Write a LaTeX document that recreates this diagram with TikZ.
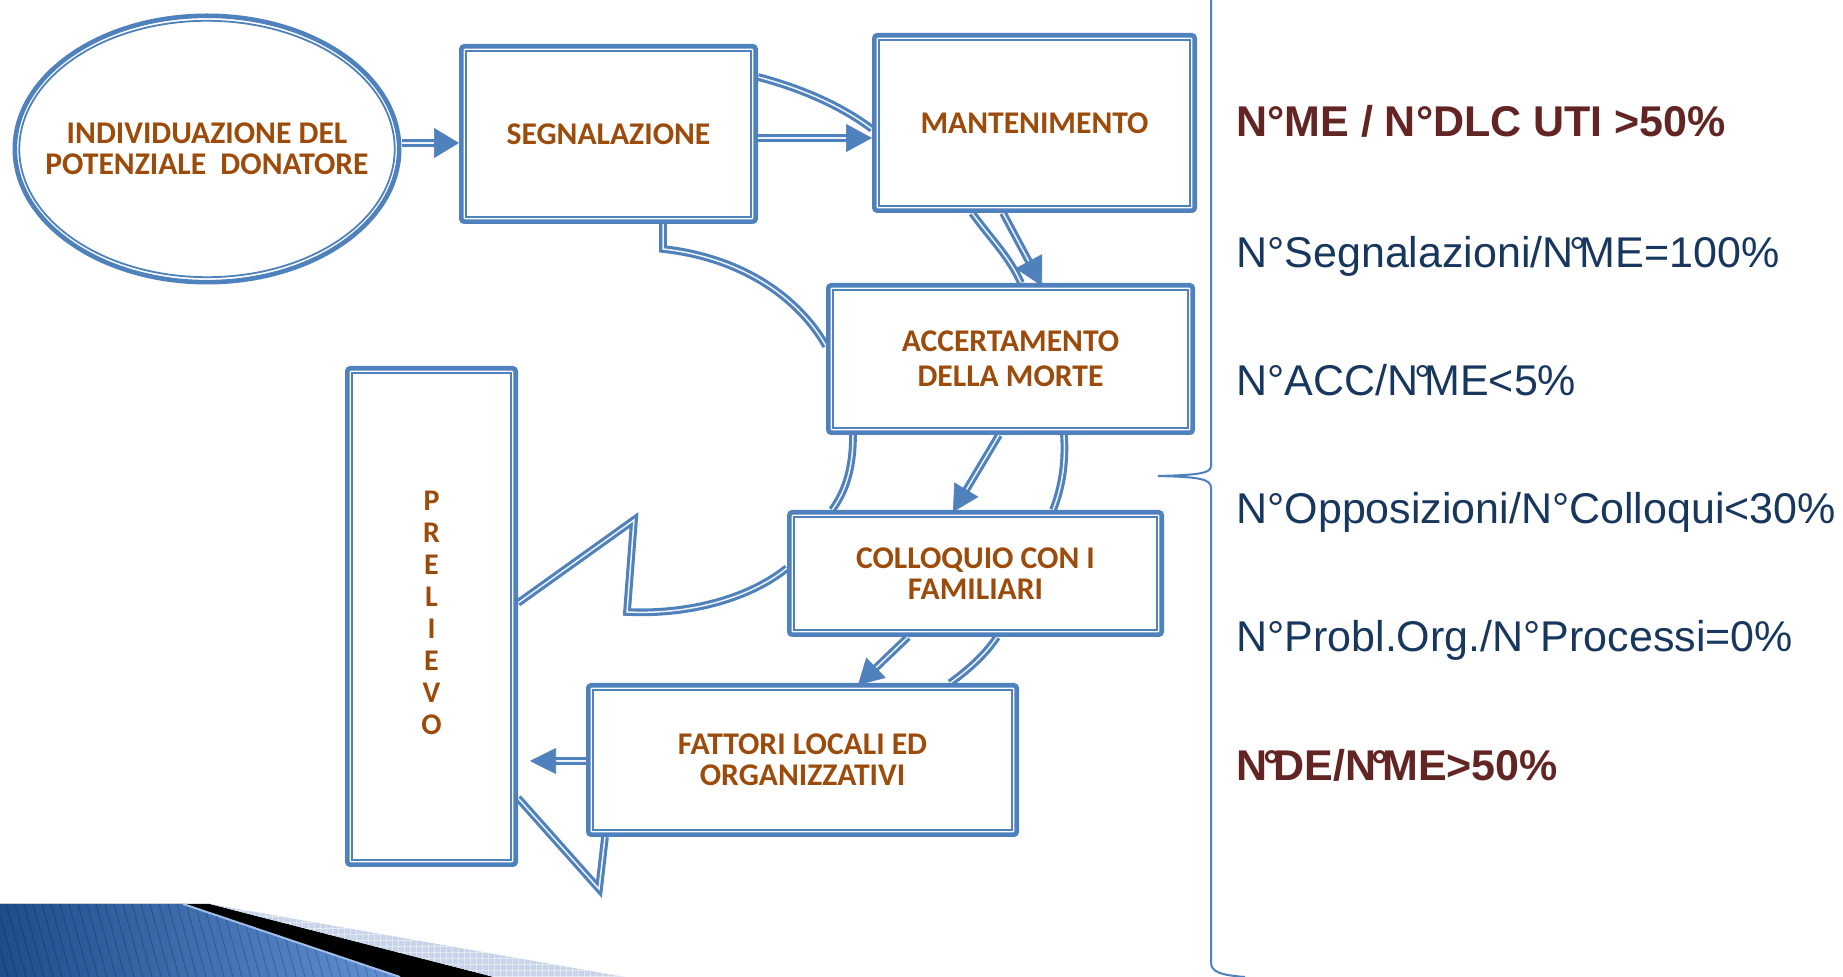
\documentclass[tikz,border=0pt]{standalone}
\usepackage{fontspec}
\setmainfont{Carlito}
\newfontfamily\kpifont{Liberation Sans}
\usetikzlibrary{shapes.geometric,arrows.meta,calc}
\pgfdeclarelayer{background}
\pgfdeclarelayer{deco}
\pgfsetlayers{deco,background,main}
\definecolor{boxblue}{RGB}{79,129,189}
\definecolor{txtbrown}{RGB}{156,75,10}
\definecolor{kpiblue}{RGB}{23,55,94}
\definecolor{kpired}{RGB}{99,37,35}
\definecolor{bandlight}{RGB}{200,212,234}
\definecolor{banddark}{RGB}{30,76,140}
\definecolor{bandmid}{RGB}{100,145,212}
\newcommand\boxfont{\bfseries\fontsize{15.8}{15.3}\selectfont}
\newcommand\tdeg{\kern-0.1em°\kern-0.16em}
\newcommand\barrow[4]{%
  \draw[conn, shorten >=#3-1pt] #1 -- #2;
  \draw[boxblue, line width=0.3pt, -{Triangle[length=#3,width=#4]}] ($#1!0.85!#2$) -- #2;}
\begin{document}
\begin{tikzpicture}[x=0.5pt,y=-0.5pt,
  box/.style={draw=boxblue, line width=2.3pt, rounded corners=1.5pt, fill=white,
    inner sep=0pt, align=center, font=\boxfont, text=txtbrown},
  inner/.style={draw=boxblue, line width=0.9pt},
  conn/.style={draw=boxblue, line width=1.55pt, double=white!90!boxblue, double distance=0.75pt},
  btext/.style={text=txtbrown, inner sep=0pt, align=center, font=\boxfont},
  kpi/.style={anchor=base west, inner sep=0pt, text=kpiblue, font=\kpifont\fontsize{21.5}{25}\selectfont},
  kpib/.style={kpi, text=kpired, font=\kpifont\bfseries\fontsize{21.5}{25}\selectfont}]
\useasboundingbox (0,0) rectangle (1843,977);
\begin{pgfonlayer}{deco}
  \fill[white] (0,0) rectangle (1843,977);
  % bottom-left decoration
  \fill[left color=banddark, right color=bandmid] (0,904) -- (183,904) -- (402,977) -- (0,977) -- cycle;
  \begin{scope}
    \clip (0,904) -- (183,904) -- (402,977) -- (0,977) -- cycle;
    \foreach \i in {-30,-21,...,420} \draw[black, opacity=0.22, line width=0.4pt] (\i,904) -- (\i+20,977);
  \end{scope}
  \fill[black] (183,904) -- (210,904) -- (494,977) -- (400,977) -- cycle;
  \draw[bandmid!60!white, line width=1pt] (183,904) -- (400,977);
  \fill[bandlight] (210,904) -- (625,977) -- (494,977) -- cycle;
  \begin{scope}
    \clip (210,904) -- (625,977) -- (494,977) -- cycle;
    \foreach \i in {200,206,...,640} \draw[white, opacity=0.45, line width=0.3pt] (\i,904) -- (\i,977);
    \foreach \j in {904,910,...,977} \draw[white, opacity=0.45, line width=0.3pt] (200,\j) -- (640,\j);
  \end{scope}
  % brace
  \draw[boxblue, line width=1pt] (1211,0) -- (1211,466) .. controls (1211,473) and (1200,475) .. (1158,476)
     .. controls (1200,477) and (1211,479) .. (1211,488) -- (1211,962) .. controls (1211,972) and (1220,975) .. (1245,977);
\end{pgfonlayer}

% nodes
\node[box, ellipse, minimum width=192.2pt, minimum height=133.2pt] (ell) at (207,149) {};
\draw[inner] (ell.center) ellipse [x radius=187.7, y radius=128.2];
\node[btext] (ellt) at (ell.center) {INDIVIDUAZIONE DEL\\POTENZIALE\ \ DONATORE};
\node[box, minimum width=147.2pt, minimum height=87.7pt] (seg) at (608.5,134) {SEGNALAZIONE};
\node[box, minimum width=160.2pt, minimum height=87.7pt] (mant) at (1034.5,123) {MANTENIMENTO};
\node[box, minimum width=182.2pt, minimum height=73.7pt, font=\bfseries\fontsize{15.8}{17.5}\selectfont] (acc) at (1010.5,359)
  {ACCERTAMENTO\\DELLA MORTE};
\node[box, minimum width=186.2pt, minimum height=61.2pt] (coll) at (975.5,573.5) {COLLOQUIO CON I\\FAMILIARI};
\node[box, minimum width=214.2pt, minimum height=74.7pt] (fatt) at (802.5,760) {FATTORI LOCALI ED\\ORGANIZZATIVI};
\node[box, minimum width=84.2pt, minimum height=248.2pt] (prel) at (431.5,616.5) {};
\foreach \n in {seg,mant,acc,coll,fatt,prel}
  \draw[inner] ([shift={(7.3,7.3)}]\n.north west) rectangle ([shift={(-7.3,-7.3)}]\n.south east);
\node[btext, font=\bfseries\fontsize{15}{16}\selectfont] (prelt) at (prel.center |- 0,613)
  {P\\R\\E\\L\\I\\E\\V\\O};

% curved band connectors (behind boxes)
\begin{pgfonlayer}{background}
  \draw[conn] (seg.east |- 0,77) .. controls (800,88) and (840,105) .. (mant.west |- 0,129);
  \draw[conn] (mant.south -| 972,0) .. controls (992,240) and (1010,258) .. (acc.north -| 1021,0);
  \draw[conn] (seg.south -| 663,0) -- (663,249) .. controls (745,258) and (800,300) .. (acc.west |- 0,346);
  \draw[conn] (acc.south -| 853,0) .. controls (853,470) and (845,492) .. (coll.north -| 832,0);
  \draw[conn] (acc.south -| 1064,0) .. controls (1066,465) and (1061,490) .. (coll.north -| 1053,0);
  \draw[conn] (coll.west |- 0,568) .. controls (750,598) and (690,615) .. (627,612) -- (634,520) -- (prel.east |- 0,603);
  \draw[conn] (coll.south -| 997,0) .. controls (985,655) and (968,670) .. (fatt.north -| 950,0);
  \draw[conn] (fatt.south -| 605,0) -- (599,889) -- (prel.east |- 0,798);
\end{pgfonlayer}

% block arrows
\coordinate (a1s) at (ell.east |- 0,143);
\coordinate (a1e) at (seg.west |- 0,143);
\coordinate (a2s) at (seg.east |- 0,138);
\coordinate (a2e) at (mant.west |- 0,138);
\coordinate (a3s) at (mant.south -| 1003,0);
\coordinate (a3e) at (1042,286);
\coordinate (a4s) at (acc.south -| 999,0);
\coordinate (a4e) at (953,512);
\coordinate (a5s) at (coll.south -| 908,0);
\coordinate (a5e) at (858,685);
\coordinate (a6s) at (fatt.west |- 0,761);
\coordinate (a6e) at (530,761);
\barrow{(a1s)}{(a1e)}{12.5pt}{15pt}
\barrow{(a2s)}{(a2e)}{13pt}{14pt}
\barrow{(a3s)}{(a3e)}{14pt}{15pt}
\barrow{(a4s)}{(a4e)}{13pt}{14pt}
\barrow{(a5s)}{(a5e)}{12.5pt}{14pt}
\barrow{(a6s)}{(a6e)}{13pt}{13pt}

% indicators
\node[kpib] (k1) at (1236,137) {N°ME / N°DLC UTI >50\%};
\node[kpi]  (k2) at (1236,268) {N°Segnalazioni/N\tdeg ME=100\%};
\node[kpi]  (k3) at (1236,396) {N°ACC/N\tdeg ME<5\%};
\node[kpi]  (k4) at (1236,524) {N°Opposizioni/N°Colloqui<30\%};
\node[kpi]  (k5) at (1236,652) {N°Probl.Org./N°Processi=0\%};
\node[kpib] (k6) at (1236,781) {N\tdeg DE/N\tdeg ME>50\%};
\end{tikzpicture}
\end{document}
